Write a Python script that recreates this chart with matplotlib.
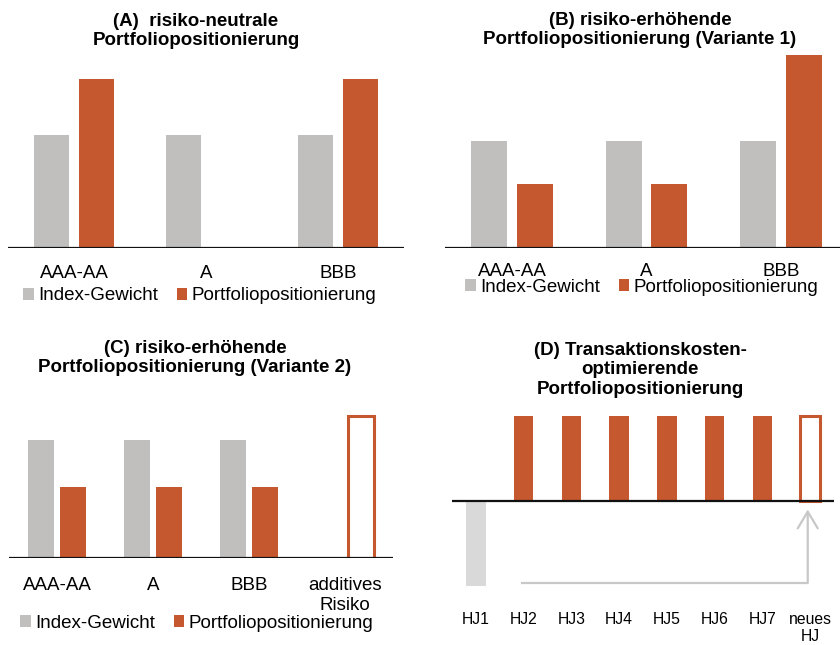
import matplotlib
matplotlib.use("Agg")
import matplotlib.pyplot as plt
import numpy as np

plt.rcParams['font.family'] = ['Liberation Sans', 'DejaVu Sans']

W, H = 840, 645
ORANGE = '#C5582F'
GREY = '#C0BFBE'
LIGHT_GREY = '#D9D9D9'
ARROW_GREY = '#C8C8C8'

# (A) risiko-neutral
a_cats = ['AAA-AA', 'A', 'BBB']
a_index = [2, 2, 2]
a_port = [3, 0, 3]

# (B) risiko-erhoehend, Variante 1
b_cats = ['AAA-AA', 'A', 'BBB']
b_index = [5, 5, 5]
b_port = [3, 3, 9]

# (C) risiko-erhoehend, Variante 2 (last category = additive risk, drawn hollow)
c_cats = ['AAA-AA', 'A', 'BBB', 'additives\nRisiko']
c_index = [5, 5, 5, 0]
c_port = [3, 3, 3, 6]

# (D) transaction-cost optimising, half-year steps
d_cats = ['HJ1', 'HJ2', 'HJ3', 'HJ4', 'HJ5', 'HJ6', 'HJ7', 'neues\nHJ']
d_values = [-1, 1, 1, 1, 1, 1, 1, 1]

fig = plt.figure(figsize=(W / 100, H / 100), dpi=100)


def panel(left, right, base, unit_px, ymin, ymax):
    top = base - ymax * unit_px
    bottom = base - ymin * unit_px
    ax = fig.add_axes([left / W, 1 - bottom / H, (right - left) / W, (bottom - top) / H])
    ax.set_ylim(ymin, ymax)
    for s in ax.spines.values():
        s.set_visible(False)
    ax.set_yticks([])
    ax.tick_params(axis='x', length=0)
    ax.axhline(0, color='#111111', lw=1.6, zorder=5)
    return ax


def grouped(ax, cats, idx, port, pad, hollow_last=False):
    x = np.arange(len(cats))
    ax.bar(x - 0.17, idx, 0.27, color=GREY, label='Index-Gewicht')
    bars = ax.bar(x + 0.17, port, 0.27, color=ORANGE, label='Portfoliopositionierung')
    if hollow_last:
        b = bars.patches[-1]
        b.set_facecolor('white')
        b.set_edgecolor(ORANGE)
        b.set_linewidth(2.2)
    ax.set_xticks(x, cats, fontsize=13.5)
    ax.tick_params(axis='x', pad=pad)
    ax.set_xlim(-0.5, len(cats) - 0.5)


def legend(ax, cx, cy):
    ax.legend(loc='center', bbox_to_anchor=(cx / W, 1 - cy / H), bbox_transform=fig.transFigure,
              ncol=2, frameon=False, fontsize=13.5, handlelength=0.55, handleheight=0.55,
              handletextpad=0.25, columnspacing=1.0, borderaxespad=0, borderpad=0)


def title(cx, cy, txt):
    fig.text(cx / W, 1 - cy / H, txt, ha='center', va='center', fontsize=13.5,
             fontweight='bold', linespacing=1.22)


ax_a = panel(8, 404, 248, 56.5, 0, 3.3)
grouped(ax_a, a_cats, a_index, a_port, pad=12.5)
legend(ax_a, 200, 296)
title(196, 31, '(A)  risiko-neutrale\nPortfoliopositionierung')

ax_b = panel(445, 848, 248, 21.4, 0, 9.5)
grouped(ax_b, b_cats, b_index, b_port, pad=10.5)
legend(ax_b, 642, 287)
title(640, 30, '(B) risiko-erhöhende\nPortfoliopositionierung (Variante 1)')

ax_c = panel(9, 393, 558, 23.6, 0, 6.5)
grouped(ax_c, c_cats, c_index, c_port, pad=14, hollow_last=True)
legend(ax_c, 197, 623)
title(195, 358, '(C) risiko-erhöhende\nPortfoliopositionierung (Variante 2)')

ax_d = panel(452, 834, 501, 85, -1.0, 1.2)
xd = np.arange(len(d_cats))
d_colors = [LIGHT_GREY if v < 0 else ORANGE for v in d_values]
d_bars = ax_d.bar(xd, d_values, 0.41, color=d_colors)
last = d_bars.patches[-1]
last.set_facecolor('white')
last.set_edgecolor(ORANGE)
last.set_linewidth(2.2)
ax_d.set_xlim(-0.5, len(d_cats) - 0.5)
ax_d.set_xticks(xd, d_cats, fontsize=11.3, linespacing=1.1)
ax_d.tick_params(axis='x', pad=19)
title(640, 370, '(D) Transaktionskosten-\noptimierende\nPortfoliopositionierung')

# roll-over arrow: from HJ2 along the bottom, then up to the new half-year
arrow_y = -0.965
ax_d.plot([0.95, 6.95], [arrow_y, arrow_y], color=ARROW_GREY, lw=1.6, solid_capstyle='butt')
ax_d.annotate('', xy=(6.95, -0.1), xytext=(6.95, arrow_y),
              arrowprops=dict(arrowstyle='->,head_length=0.6,head_width=0.36',
                              mutation_scale=20, color=ARROW_GREY, lw=1.6,
                              shrinkA=0, shrinkB=0))

fig.savefig('out.png', dpi=100)
